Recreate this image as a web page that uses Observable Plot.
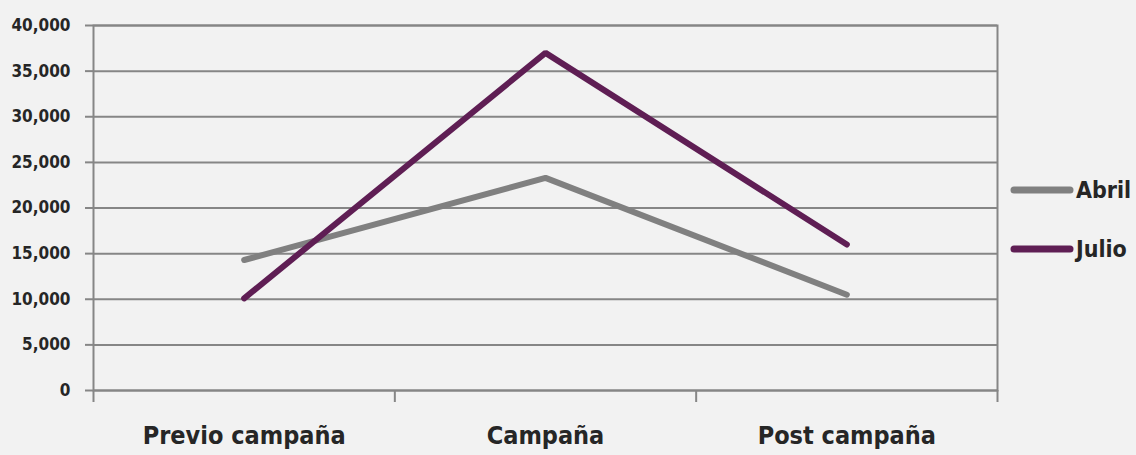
<!DOCTYPE html>
<html><head><meta charset="utf-8">
<script src="https://cdn.jsdelivr.net/npm/d3@7"></script>
<script src="https://cdn.jsdelivr.net/npm/@observablehq/plot@0.6"></script>
<style>
body{margin:0;background:#f2f2f2;}
#wrap{position:relative;width:1136px;height:455px;background:#f2f2f2;}
.f, .f svg, .f text{font-family:"DejaVu Sans",sans-serif;font-stretch:condensed;font-weight:bold;color:#262626;}
.item{position:absolute;left:1010px;display:flex;align-items:center;height:40px;font-size:23px;}
.item svg{display:block;margin-right:2px;}
</style></head>
<body>
<div id="wrap" class="f"></div>
<script>
const categories = ["Previo campaña", "Campaña", "Post campaña"];
const seriesNames = ["Abril", "Julio"];
const seriesColors = ["#808080", "#5f1e54"];
const abril = [14300, 23300, 10500];
const julio = [10100, 37000, 16000];
const yTicks = [0, 5000, 10000, 15000, 20000, 25000, 30000, 35000, 40000];

const data = [];
categories.forEach((c, i) => {
  data.push({cat: c, idx: i + 0.5, series: "Abril", value: abril[i]});
});
categories.forEach((c, i) => {
  data.push({cat: c, idx: i + 0.5, series: "Julio", value: julio[i]});
});

const chart = Plot.plot({
  width: 1136, height: 455,
  marginLeft: 93, marginRight: 139, marginTop: 25, marginBottom: 65,
  x: {domain: [0, 3], axis: null},
  y: {domain: [0, 40000], axis: null},
  color: {domain: seriesNames, range: seriesColors},
  style: {background: "transparent", fontFamily: '"DejaVu Sans",sans-serif', fontWeight: "bold", fontStretch: "condensed", color: "#262626", overflow: "visible"},
  marks: [
    Plot.gridY(yTicks, {stroke: "#868686", strokeOpacity: 1, strokeWidth: 2}),
    Plot.frame({stroke: "#868686", strokeWidth: 2}),
    Plot.axisY(yTicks, {label: null, tickSize: 8, tickPadding: 15, tickFormat: d3.format(","), fontSize: 17, stroke: "#868686", strokeWidth: 2, fill: "#262626"}),
    Plot.axisX([0, 1, 2, 3], {label: null, tickSize: 12, tickFormat: () => "", stroke: "#868686", strokeWidth: 2}),
    Plot.axisX(categories.map((d, i) => i + 0.5), {label: null, tickSize: 0, tickPadding: 36, tickFormat: v => categories[Math.round(v - 0.5)], fontSize: 25, fill: "#262626"}),
    Plot.line(data, {x: "idx", y: "value", z: "series", stroke: "series", strokeWidth: 6, strokeLinecap: "round", strokeLinejoin: "miter"})
  ]
});
const wrap = document.getElementById("wrap");
wrap.appendChild(chart);

const centers = [190, 248.5];
seriesNames.forEach((name, i) => {
  const item = document.createElement("div");
  item.className = "item";
  item.style.top = (centers[i] - 20) + "px";
  item.innerHTML = `<svg width="64" height="12"><line x1="4" y1="6" x2="60" y2="6" stroke="${seriesColors[i]}" stroke-width="7" stroke-linecap="round"/></svg><span>${name}</span>`;
  wrap.appendChild(item);
});
</script>
</body></html>
